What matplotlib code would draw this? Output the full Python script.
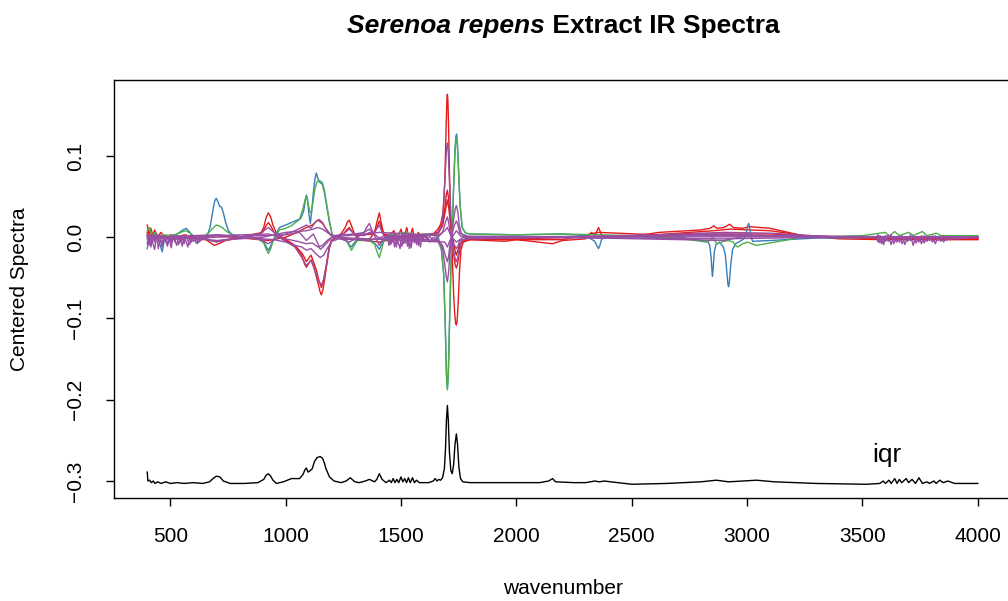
import numpy as np
import matplotlib
matplotlib.use("Agg")
import matplotlib.pyplot as plt

plt.rcParams['font.family'] = ['Liberation Sans', 'DejaVu Sans']

# Set1 group colours
col_red = '#E41A1C'
col_blue = '#377EB8'
col_green = '#4DAF4A'
col_purple = '#984EA3'

x_ticks = [500, 1000, 1500, 2000, 2500, 3000, 3500, 4000]
y_ticks = [-0.3, -0.2, -0.1, 0.0, 0.1]
y_tick_labels = ['\u22120.3', '\u22120.2', '\u22120.1', '0.0', '0.1']

# centered spectra, (wavenumber, value) pairs per sample
red_a = [(400, 0.015), (408, 0.004), (416, 0.011), (424, 0.002), (432, 0.009), (445, 0.001),
         (460, 0.006), (480, -0.002), (500, 0.003), (530, 0.0), (560, 0.003), (600, 0.0),
         (650, -0.002), (690, -0.010), (710, -0.008), (740, -0.004), (800, -0.001), (860, 0.002),
         (890, 0.004), (905, 0.012), (915, 0.024), (925, 0.030), (935, 0.025), (945, 0.015),
         (960, 0.005), (980, 0.001), (1030, -0.008), (1060, -0.018), (1072, -0.024),
         (1082, -0.033), (1090, -0.037), (1100, -0.032), (1110, -0.028), (1122, -0.036),
         (1133, -0.049), (1142, -0.058), (1149, -0.067), (1155, -0.071), (1162, -0.064),
         (1170, -0.050), (1180, -0.030), (1190, -0.012), (1198, -0.004), (1220, 0.001),
         (1240, 0.004), (1258, 0.012), (1268, 0.019), (1276, 0.021), (1288, 0.012),
         (1300, 0.003), (1320, -0.002), (1360, -0.004), (1385, 0.006), (1395, 0.018),
         (1406, 0.030), (1414, 0.018), (1425, 0.004), (1440, 0.0), (1470, 0.008),
         (1480, -0.004), (1500, 0.010), (1510, -0.003), (1525, 0.012), (1535, -0.002),
         (1550, 0.011), (1560, -0.004), (1575, 0.006), (1590, -0.002), (1610, 0.003),
         (1640, 0.004), (1660, 0.010), (1672, 0.016), (1682, 0.030), (1690, 0.070),
         (1696, 0.140), (1699, 0.170), (1701, 0.176), (1703, 0.170), (1706, 0.140),
         (1710, 0.080), (1716, 0.020), (1722, -0.020), (1728, -0.070), (1733, -0.095),
         (1737, -0.106), (1740, -0.108), (1743, -0.104), (1748, -0.080), (1754, -0.040),
         (1760, -0.015), (1770, -0.006), (1800, -0.003), (1950, -0.005), (2000, -0.003),
         (2157, -0.008), (2200, -0.004), (2300, -0.002), (2326, 0.006), (2340, 0.002),
         (2350, 0.008), (2356, 0.012), (2362, 0.008), (2370, 0.002), (2420, 0.0),
         (2500, 0.001), (2620, 0.006), (2800, 0.009), (2840, 0.011), (2855, 0.014),
         (2870, 0.011), (2900, 0.012), (2925, 0.016), (2940, 0.012), (2980, 0.011),
         (3010, 0.013), (3100, 0.011), (3240, 0.002), (3400, -0.002), (3600, -0.003),
         (4000, -0.003)]

red_b = [(400, 0.006), (430, 0.002), (500, 0.001), (600, -0.001), (700, -0.005), (800, 0.0),
         (900, 0.006), (915, 0.014), (925, 0.018), (935, 0.014), (950, 0.006), (1000, -0.004),
         (1040, -0.010), (1072, -0.020), (1090, -0.030), (1110, -0.022), (1133, -0.040),
         (1145, -0.054), (1155, -0.062), (1165, -0.052), (1176, -0.035), (1188, -0.014),
         (1198, -0.004), (1250, 0.004), (1264, 0.009), (1276, 0.012), (1288, 0.007),
         (1300, 0.002), (1380, 0.004), (1395, 0.012), (1406, 0.020), (1415, 0.012),
         (1425, 0.004), (1500, 0.0), (1600, 0.001), (1660, 0.006), (1680, 0.018),
         (1690, 0.036), (1696, 0.052), (1701, 0.058), (1706, 0.048), (1712, 0.030),
         (1720, 0.002), (1728, -0.020), (1735, -0.034), (1740, -0.038), (1746, -0.032),
         (1752, -0.020), (1760, -0.008), (1770, -0.004), (1800, -0.003), (2200, -0.003),
         (2356, 0.006), (2600, 0.003), (2855, 0.008), (2925, 0.010), (3100, 0.008),
         (3300, 0.0), (4000, -0.002)]

red_c = [(400, 0.003), (500, -0.002), (700, 0.002), (925, -0.004), (1000, 0.0), (1050, 0.006),
         (1090, 0.012), (1115, 0.015), (1140, 0.021), (1160, 0.017), (1176, 0.010),
         (1195, 0.003), (1210, 0.0), (1406, -0.006), (1500, 0.0), (1660, 0.004), (1680, 0.014),
         (1692, 0.032), (1701, 0.046), (1707, 0.036), (1714, 0.018), (1722, 0.002),
         (1730, -0.010), (1736, -0.019), (1740, -0.022), (1746, -0.016), (1755, -0.008),
         (1780, -0.002), (2000, -0.002), (2800, 0.004), (3100, 0.004), (3500, -0.001),
         (4000, -0.002)]

blue_a = [(400, -0.014), (410, 0.002), (420, -0.006), (435, 0.004), (450, -0.004),
          (465, -0.018), (475, -0.002), (500, 0.0), (530, 0.004), (555, 0.009), (569, 0.011),
          (585, 0.006), (600, -0.001), (617, -0.008), (630, -0.002), (650, 0.0), (660, 0.002),
          (672, 0.012), (684, 0.032), (692, 0.044), (699, 0.048), (706, 0.044), (714, 0.038),
          (722, 0.037), (730, 0.030), (740, 0.018), (752, 0.008), (769, 0.003), (820, 0.0),
          (880, -0.002), (905, -0.005), (918, -0.013), (925, -0.016), (933, -0.012),
          (945, -0.004), (973, 0.012), (1000, 0.015), (1040, 0.020), (1065, 0.023),
          (1078, 0.032), (1085, 0.045), (1090, 0.052), (1095, 0.046), (1101, 0.028),
          (1107, 0.017), (1113, 0.032), (1120, 0.055), (1127, 0.072), (1133, 0.079),
          (1138, 0.074), (1146, 0.068), (1159, 0.065), (1168, 0.055), (1178, 0.038),
          (1190, 0.018), (1203, 0.002), (1240, -0.002), (1263, -0.004), (1275, -0.009),
          (1285, -0.012), (1297, -0.007), (1311, -0.003), (1360, -0.002), (1395, -0.010),
          (1406, -0.015), (1418, -0.008), (1430, -0.002), (1500, 0.002), (1600, 0.003),
          (1660, 0.002), (1675, -0.015), (1685, -0.045), (1692, -0.110), (1697, -0.168),
          (1701, -0.186), (1705, -0.168), (1710, -0.110), (1716, -0.040), (1722, 0.012),
          (1728, 0.062), (1734, 0.108), (1738, 0.124), (1741, 0.127), (1744, 0.118),
          (1749, 0.086), (1756, 0.040), (1765, 0.012), (1780, 0.005), (1800, 0.004),
          (2000, 0.003), (2200, 0.004), (2300, 0.002), (2340, -0.005), (2350, -0.011),
          (2356, -0.014), (2362, -0.010), (2370, -0.002), (2420, 0.001), (2600, 0.0),
          (2707, 0.0), (2829, -0.005), (2838, -0.010), (2844, -0.024), (2847, -0.038),
          (2850, -0.048), (2853, -0.038), (2858, -0.018), (2865, -0.009), (2881, -0.006),
          (2897, -0.012), (2906, -0.022), (2912, -0.042), (2917, -0.058), (2920, -0.061),
          (2923, -0.056), (2929, -0.035), (2937, -0.015), (2950, -0.008), (2970, -0.005),
          (2985, -0.002), (2996, 0.004), (3002, 0.013), (3007, 0.017), (3012, 0.010),
          (3018, 0.0), (3024, -0.005), (3100, -0.004), (3300, -0.001), (3600, 0.0),
          (4000, 0.0)]

green_a = [(400, 0.008), (410, 0.012), (420, 0.002), (435, 0.006), (450, 0.0), (470, 0.003),
           (500, 0.002), (530, 0.004), (555, 0.007), (569, 0.008), (585, 0.005), (600, 0.002),
           (617, -0.002), (650, 0.002), (668, 0.006), (684, 0.011), (699, 0.015), (712, 0.014),
           (725, 0.012), (745, 0.007), (770, 0.003), (800, 0.0), (880, -0.002), (905, -0.007),
           (916, -0.015), (925, -0.020), (934, -0.015), (945, -0.005), (973, 0.009),
           (1000, 0.011), (1029, 0.015), (1060, 0.022), (1075, 0.035), (1084, 0.046),
           (1090, 0.050), (1097, 0.042), (1104, 0.032), (1110, 0.030), (1118, 0.042),
           (1126, 0.058), (1134, 0.067), (1142, 0.070), (1152, 0.069), (1159, 0.067),
           (1168, 0.058), (1177, 0.042), (1190, 0.020), (1203, 0.001), (1233, 0.0),
           (1263, -0.004), (1274, -0.010), (1285, -0.016), (1297, -0.010), (1311, -0.004),
           (1360, -0.004), (1385, -0.008), (1395, -0.017), (1406, -0.025), (1414, -0.017),
           (1425, -0.005), (1440, 0.002), (1480, 0.004), (1520, 0.006), (1560, 0.003),
           (1600, 0.004), (1650, 0.002), (1675, -0.015), (1685, -0.045), (1692, -0.110),
           (1697, -0.170), (1701, -0.188), (1705, -0.170), (1710, -0.110), (1716, -0.040),
           (1722, 0.010), (1728, 0.060), (1734, 0.105), (1738, 0.119), (1741, 0.122),
           (1744, 0.115), (1749, 0.085), (1756, 0.040), (1765, 0.012), (1780, 0.005),
           (1800, 0.004), (2000, 0.003), (2200, 0.004), (2356, 0.003), (2500, 0.002),
           (2700, -0.001), (2824, -0.006), (2840, -0.004), (2850, 0.0), (2858, -0.004),
           (2870, -0.008), (2900, -0.005), (2920, -0.004), (2940, -0.006), (2950, -0.010),
           (2959, -0.012), (2970, -0.010), (2980, -0.008), (3003, -0.006), (3020, -0.008),
           (3041, -0.010), (3100, -0.007), (3240, 0.0), (3500, 0.002), (3600, 0.006),
           (3615, 0.001), (3640, 0.007), (3660, 0.002), (3700, 0.006), (3720, 0.002),
           (3760, 0.007), (3780, 0.002), (3820, 0.005), (3840, 0.002), (4000, 0.002)]

purple_a = [(400, 0.004), (420, -0.004), (450, 0.002), (500, -0.003), (600, 0.0),
            (650, -0.002), (700, -0.006), (750, -0.003), (800, 0.0), (880, 0.003),
            (905, 0.008), (925, 0.012), (945, 0.007), (970, 0.0), (1000, -0.005),
            (1040, -0.012), (1070, -0.025), (1090, -0.035), (1110, -0.028), (1125, -0.040),
            (1140, -0.052), (1155, -0.059), (1165, -0.052), (1176, -0.035), (1188, -0.015),
            (1200, -0.004), (1250, 0.004), (1276, 0.010), (1300, 0.003), (1340, 0.002),
            (1363, 0.006), (1385, 0.006), (1406, 0.015), (1418, 0.006), (1430, 0.0),
            (1660, 0.005), (1676, 0.014), (1685, 0.040), (1692, 0.080), (1697, 0.108),
            (1701, 0.116), (1705, 0.104), (1710, 0.068), (1716, 0.025), (1722, -0.004),
            (1730, -0.020), (1736, -0.028), (1740, -0.030), (1746, -0.025), (1752, -0.015),
            (1762, -0.005), (1780, -0.002), (2000, -0.001), (2600, 0.003), (2900, 0.006),
            (3100, 0.005), (3400, 0.0), (4000, 0.0)]

purple_b = [(400, -0.002), (500, 0.001), (700, 0.003), (880, -0.002), (905, -0.005),
            (925, -0.008), (945, -0.004), (970, 0.001), (1000, 0.004), (1040, 0.008),
            (1070, 0.012), (1090, 0.015), (1110, 0.011), (1130, 0.019), (1145, 0.022),
            (1160, 0.018), (1175, 0.010), (1190, 0.004), (1240, -0.002), (1276, -0.006),
            (1300, -0.002), (1340, 0.006), (1355, 0.014), (1363, 0.017), (1372, 0.010),
            (1385, 0.002), (1406, -0.010), (1418, -0.004), (1430, 0.0), (1660, -0.004),
            (1680, -0.014), (1690, -0.034), (1697, -0.050), (1701, -0.055), (1706, -0.044),
            (1712, -0.020), (1720, 0.004), (1728, 0.022), (1735, 0.035), (1740, 0.039),
            (1746, 0.032), (1752, 0.016), (1762, 0.004), (1780, 0.001), (2000, 0.001),
            (2900, -0.004), (3000, 0.002), (3400, 0.0), (4000, 0.0)]

purple_c = [(400, -0.008), (408, 0.003), (416, -0.012), (424, 0.001), (432, -0.006),
            (440, 0.004), (448, -0.014), (456, -0.002), (464, -0.009), (472, 0.002),
            (480, -0.005), (488, -0.011), (496, 0.001), (504, -0.007), (512, 0.003),
            (520, -0.004), (528, -0.010), (536, 0.002), (544, -0.006), (552, -0.001),
            (560, -0.008), (568, 0.003), (576, -0.004), (584, -0.009), (592, 0.0),
            (600, -0.005), (612, -0.002), (624, -0.006), (640, -0.002), (700, -0.004),
            (900, 0.0), (950, 0.003), (1000, 0.006), (1050, 0.007), (1090, 0.008),
            (1120, 0.010), (1140, 0.012), (1160, 0.010), (1180, 0.006), (1200, 0.002),
            (1300, 0.004), (1340, 0.006), (1363, 0.010), (1385, 0.004), (1400, 0.0),
            (1440, -0.004), (1448, 0.004), (1456, -0.009), (1464, 0.002), (1472, -0.012),
            (1480, 0.003), (1488, -0.006), (1496, -0.014), (1504, 0.004), (1512, -0.008),
            (1520, 0.006), (1528, -0.011), (1536, 0.001), (1544, -0.013), (1552, 0.005),
            (1560, -0.007), (1568, 0.002), (1576, -0.010), (1584, 0.003), (1592, -0.005),
            (1600, 0.002), (1612, -0.004), (1624, 0.001), (1640, -0.004), (1660, 0.0),
            (1680, 0.006), (1692, 0.018), (1701, 0.025), (1706, 0.019), (1712, 0.008),
            (1720, -0.002), (1728, -0.008), (1740, -0.014), (1748, -0.010), (1755, -0.004),
            (1800, 0.0), (2500, 0.001), (2900, 0.004), (3100, 0.002), (3560, 0.0),
            (3568, -0.006), (3576, 0.002), (3584, -0.008), (3592, 0.001), (3600, -0.005),
            (3612, 0.003), (3624, -0.009), (3636, 0.001), (3648, -0.006), (3660, 0.002),
            (3672, -0.008), (3684, 0.0), (3696, -0.005), (3708, 0.003), (3720, -0.010),
            (3732, 0.001), (3744, -0.006), (3756, 0.002), (3768, -0.007), (3780, 0.001),
            (3792, -0.004), (3804, 0.002), (3816, -0.008), (3828, 0.001), (3840, -0.005),
            (3852, 0.002), (3864, -0.004), (3880, 0.0), (3900, -0.002), (4000, 0.0)]

purple_d = [(400, 0.002), (408, -0.010), (416, 0.004), (424, -0.007), (432, -0.015),
            (440, 0.0), (448, -0.005), (456, 0.003), (464, -0.012), (472, -0.004),
            (480, 0.002), (488, -0.008), (496, -0.003), (504, -0.013), (512, 0.001),
            (520, -0.006), (528, 0.002), (536, -0.009), (544, -0.002), (552, -0.011),
            (560, 0.001), (568, -0.005), (576, -0.012), (584, 0.0), (592, -0.006),
            (600, 0.001), (612, -0.007), (624, -0.001), (640, -0.003), (700, 0.003),
            (900, -0.002), (950, -0.003), (1000, -0.006), (1040, -0.010), (1070, -0.012),
            (1090, -0.016), (1110, -0.014), (1130, -0.020), (1150, -0.025), (1165, -0.022),
            (1180, -0.014), (1200, -0.005), (1230, -0.002), (1300, -0.003), (1363, -0.004),
            (1440, 0.002), (1448, -0.010), (1456, 0.002), (1464, -0.006), (1472, 0.004),
            (1480, -0.012), (1488, 0.001), (1496, -0.004), (1504, -0.011), (1512, 0.003),
            (1520, -0.007), (1528, 0.002), (1536, -0.014), (1544, 0.001), (1552, -0.006),
            (1560, 0.004), (1568, -0.009), (1576, 0.001), (1584, -0.012), (1592, 0.002),
            (1600, -0.005), (1612, 0.001), (1624, -0.006), (1640, 0.0), (1660, -0.004),
            (1680, -0.010), (1692, -0.022), (1701, -0.030), (1706, -0.024), (1712, -0.010),
            (1720, 0.002), (1730, 0.014), (1740, 0.020), (1748, 0.014), (1755, 0.005),
            (1800, 0.0), (2500, -0.001), (2900, -0.002), (3100, -0.001), (3560, 0.0),
            (3568, 0.003), (3576, -0.007), (3584, 0.001), (3592, -0.009), (3600, 0.002),
            (3612, -0.005), (3624, 0.003), (3636, -0.008), (3648, 0.001), (3660, -0.006),
            (3672, 0.002), (3684, -0.009), (3696, 0.001), (3708, -0.004), (3720, 0.002),
            (3732, -0.007), (3744, 0.001), (3756, -0.008), (3768, 0.002), (3780, -0.005),
            (3792, 0.001), (3804, -0.006), (3816, 0.002), (3828, -0.004), (3840, 0.001),
            (3852, -0.006), (3864, 0.001), (3880, -0.003), (3900, 0.0), (4000, 0.0)]

purple_e = [(400, 0.0), (500, -0.002), (700, 0.002), (925, 0.004), (1000, -0.002),
            (1050, -0.005), (1090, -0.008), (1115, -0.007), (1140, -0.012), (1160, -0.010),
            (1180, -0.004), (1200, 0.0), (1406, 0.006), (1660, 0.002), (1690, 0.008),
            (1701, 0.012), (1710, 0.006), (1720, 0.0), (1740, -0.006), (1770, 0.0),
            (2900, 0.002), (4000, 0.0)]

purple_f = [(400, 0.002), (600, -0.001), (1000, 0.003), (1060, 0.006), (1090, -0.004),
            (1120, 0.004), (1140, -0.008), (1150, -0.015), (1162, -0.012), (1175, -0.008),
            (1200, 0.0), (1690, -0.006), (1701, -0.012), (1712, -0.004), (1740, 0.008),
            (1760, 0.001), (4000, 0.0)]

# interquartile range trace, drawn at an offset below the spectra
iqr_trace = [(400, -0.289), (403, -0.300), (410, -0.299), (418, -0.302), (426, -0.300),
             (434, -0.303), (445, -0.301), (460, -0.303), (480, -0.301), (500, -0.303),
             (530, -0.302), (560, -0.303), (600, -0.302), (640, -0.303), (670, -0.301),
             (685, -0.297), (700, -0.294), (715, -0.295), (730, -0.300), (760, -0.303),
             (820, -0.303), (880, -0.302), (905, -0.298), (915, -0.293), (925, -0.291),
             (935, -0.294), (945, -0.299), (960, -0.303), (990, -0.301), (1025, -0.297),
             (1060, -0.297), (1075, -0.292), (1084, -0.286), (1090, -0.284), (1097, -0.289),
             (1103, -0.288), (1115, -0.285), (1125, -0.276), (1137, -0.271), (1150, -0.270),
             (1160, -0.272), (1168, -0.278), (1175, -0.285), (1190, -0.295), (1210, -0.300),
             (1240, -0.302), (1262, -0.300), (1280, -0.296), (1300, -0.301), (1320, -0.302),
             (1345, -0.300), (1363, -0.298), (1385, -0.301), (1395, -0.298), (1406, -0.291),
             (1418, -0.298), (1435, -0.302), (1450, -0.299), (1458, -0.302), (1466, -0.297),
             (1474, -0.302), (1482, -0.298), (1490, -0.302), (1500, -0.295), (1508, -0.301),
             (1516, -0.297), (1524, -0.302), (1532, -0.296), (1540, -0.302), (1550, -0.296),
             (1558, -0.302), (1567, -0.299), (1580, -0.302), (1600, -0.302), (1620, -0.302),
             (1640, -0.300), (1648, -0.297), (1656, -0.300), (1664, -0.298), (1672, -0.299),
             (1680, -0.296), (1688, -0.285), (1693, -0.260), (1697, -0.225), (1701, -0.207),
             (1705, -0.225), (1710, -0.265), (1716, -0.287), (1722, -0.291), (1728, -0.280),
             (1734, -0.255), (1740, -0.242), (1745, -0.255), (1751, -0.283), (1758, -0.297),
             (1768, -0.301), (1800, -0.302), (1900, -0.302), (2000, -0.302), (2100, -0.302),
             (2140, -0.300), (2157, -0.297), (2170, -0.301), (2250, -0.302), (2300, -0.302),
             (2340, -0.300), (2360, -0.301), (2380, -0.300), (2500, -0.304), (2650, -0.303),
             (2800, -0.301), (2867, -0.299), (2920, -0.301), (3041, -0.299), (3120, -0.301),
             (3300, -0.303), (3518, -0.304), (3575, -0.303), (3590, -0.300), (3600, -0.303),
             (3615, -0.299), (3625, -0.303), (3640, -0.297), (3650, -0.303), (3660, -0.298),
             (3670, -0.302), (3690, -0.297), (3700, -0.302), (3715, -0.298), (3730, -0.303),
             (3745, -0.296), (3760, -0.303), (3780, -0.301), (3790, -0.303), (3810, -0.300),
             (3820, -0.303), (3835, -0.299), (3850, -0.302), (3870, -0.300), (3900, -0.303),
             (4000, -0.303)]

spectra = [(red_a, col_red), (red_b, col_red), (red_c, col_red),
           (blue_a, col_blue), (green_a, col_green),
           (purple_a, col_purple), (purple_b, col_purple), (purple_c, col_purple),
           (purple_d, col_purple), (purple_e, col_purple), (purple_f, col_purple)]

fig = plt.figure(figsize=(10.08, 6.01), dpi=100)
ax = fig.add_axes([114 / 1008, 103 / 601, 897 / 1008, 418 / 601])

for pts, c in spectra:
    wn, val = zip(*pts)
    ax.plot(wn, val, color=c, lw=1.0)

wn, val = zip(*iqr_trace)
ax.plot(wn, val, color='black', lw=1.0)
ax.text(3605, -0.268, 'iqr', fontsize=19, ha='center', va='center')

ax.set_xlim(256, 4144)
ax.set_ylim(-0.3209, 0.1935)
ax.set_xticks(x_ticks)
ax.set_yticks(y_ticks)
ax.set_yticklabels(y_tick_labels)
ax.tick_params(direction='out', length=6, width=1, labelsize=15, pad=15)
plt.setp(ax.get_yticklabels(), rotation=90, va='center')
for s in ax.spines.values():
    s.set_linewidth(1.0)

fig.text(20 / 1008, 1 - 289 / 601, 'Centered Spectra', rotation=90,
         fontsize=15, ha='center', va='center')
fig.text(563 / 1008, 1 - 589 / 601, 'wavenumber', fontsize=15, ha='center', va='center')

# title: italic species name followed by plain bold text, centred as one line
fig.canvas.draw()
r = fig.canvas.get_renderer()
t1 = fig.text(0, 0, 'Serenoa repens', fontsize=19, fontweight='bold', style='italic')
t2 = fig.text(0, 0, ' Extract IR Spectra', fontsize=19, fontweight='bold')
w1 = t1.get_window_extent(r).width
w2 = t2.get_window_extent(r).width
x0 = 563 - (w1 + w2) / 2
ty = 601 - 26
t1.set_position((x0 / 1008, ty / 601))
t1.set_va('center')
t2.set_position(((x0 + w1) / 1008, ty / 601))
t2.set_va('center')

fig.savefig('out.png', dpi=100)
